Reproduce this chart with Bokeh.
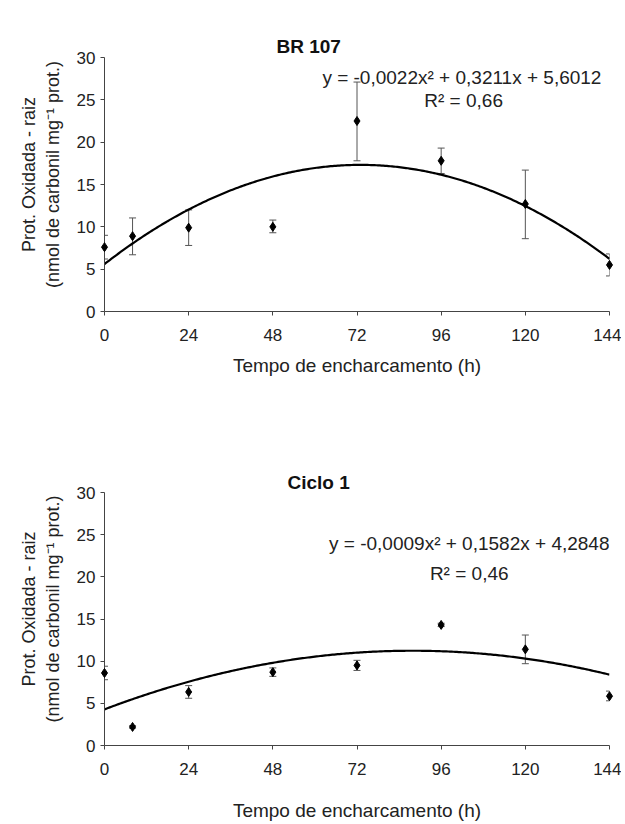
from bokeh.plotting import figure
from bokeh.layouts import column
from bokeh.models import Range1d, Whisker, ColumnDataSource, Label, FixedTicker, Title
from bokeh.embed import file_html
from bokeh.resources import INLINE

# ---- data ----
hours = [0, 8, 24, 48, 72, 96, 120, 144]
x_ticks = [0, 24, 48, 72, 96, 120, 144]
y_ticks = [0, 5, 10, 15, 20, 25, 30]

br107_mean = [7.6, 8.9, 9.9, 10.0, 22.5, 17.8, 12.7, 5.5]
br107_upper = [9.0, 11.05, 12.0, 10.8, 27.1, 19.3, 16.7, 6.8]
br107_lower = [6.2, 6.7, 7.8, 9.3, 17.8, 16.3, 8.6, 4.2]

ciclo1_mean = [8.6, 2.2, 6.35, 8.7, 9.5, 14.3, 11.4, 5.85]
ciclo1_upper = [9.4, 2.35, 7.1, 9.2, 10.1, 14.5, 13.1, 6.45]
ciclo1_lower = [7.8, 2.05, 5.6, 8.2, 8.9, 14.1, 9.7, 5.3]

br107_coef = [-0.0022, 0.3211, 5.6012]
ciclo1_coef = [-0.0009, 0.1582, 4.2848]

br107_eq = "y = -0,0022x\u00b2 + 0,3211x + 5,6012"
br107_r2 = "R\u00b2 = 0,66"
ciclo1_eq = "y = -0,0009x\u00b2 + 0,1582x + 4,2848"
ciclo1_r2 = "R\u00b2 = 0,46"

y_label_1 = "Prot. Oxidada - raiz"
y_label_2 = "(nmol de carbonil mg\u207b\u00b9 prot.)"
x_label = "Tempo de encharcamento (h)"

FONT = "Liberation Sans"
AX = "#444444"
PAD = "\u00a0" * 4


def panel(title, mean, lower, upper, coef, eq, r2, height, b_top, b_bottom,
          title_offset, title_standoff, eq_xy, r2_xy, label_standoff):
    p = figure(width=621, height=height, output_backend="svg", toolbar_location=None,
               x_range=Range1d(0, 144), y_range=Range1d(0, 30),
               min_border_left=104, min_border_right=12,
               min_border_top=b_top, min_border_bottom=b_bottom)
    p.outline_line_color = None
    p.grid.visible = False
    p.background_fill_color = "white"
    p.border_fill_color = "white"

    p.title = Title(text=title, align="left", offset=title_offset,
                    standoff=title_standoff, text_font=FONT,
                    text_font_size="19px", text_font_style="bold",
                    text_color="#111111")

    for ax in (p.xaxis[0], p.yaxis[0]):
        ax.axis_line_color = AX
        ax.major_tick_line_color = AX
        ax.minor_tick_line_color = None
        ax.major_tick_in = 0
        ax.major_tick_out = 4
        ax.major_label_text_font = FONT
        ax.major_label_text_font_size = "17px"
        ax.major_label_text_color = "#222222"
        ax.axis_label_text_font = FONT
        ax.axis_label_text_font_style = "normal"
        ax.axis_label_text_color = "#222222"
    p.xaxis.axis_label_text_font_size = "19px"
    p.yaxis.axis_label_text_font_size = "18px"
    p.xaxis.ticker = FixedTicker(ticks=x_ticks)
    p.yaxis.ticker = FixedTicker(ticks=y_ticks)
    p.xaxis.major_label_standoff = 13
    p.yaxis.major_label_standoff = 5
    p.xaxis.axis_label = x_label
    p.xaxis.axis_label_standoff = label_standoff
    p.yaxis.axis_label = PAD + y_label_1 + "\n" + PAD + y_label_2
    p.yaxis.axis_label_standoff = 11

    # trend line from the regression coefficients shown on the chart
    xs = [i * 0.5 for i in range(0, 289)]
    ys = [coef[0] * x * x + coef[1] * x + coef[2] for x in xs]
    p.line(xs, ys, line_color="black", line_width=2.2)

    src = ColumnDataSource(dict(x=hours, y=mean, lo=lower, hi=upper))
    w = Whisker(base="x", lower="lo", upper="hi", source=src,
                line_color="#555555", line_width=1)
    w.upper_head.size = 7
    w.lower_head.size = 7
    w.upper_head.line_color = "#555555"
    w.lower_head.line_color = "#555555"
    p.add_layout(w)
    r = p.scatter("x", "y", source=src, marker="diamond", size=9,
                  fill_color="black", line_color="black")
    r.level = "overlay"

    p.add_layout(Label(x=eq_xy[0], y=eq_xy[1], text=eq, text_font=FONT,
                       text_font_size="19px", text_align="right",
                       text_baseline="middle", text_color="#222222"))
    p.add_layout(Label(x=r2_xy[0], y=r2_xy[1], text=r2, text_font=FONT,
                       text_font_size="19px", text_align="center",
                       text_baseline="middle", text_color="#222222"))
    return p


top = panel("BR 107", br107_mean, br107_lower, br107_upper, br107_coef,
            br107_eq, br107_r2, 440, 57, 129, 172, 2,
            (141.7, 27.6), (102.4, 24.9), 11)
bottom = panel("Ciclo 1", ciclo1_mean, ciclo1_lower, ciclo1_upper, ciclo1_coef,
               ciclo1_eq, ciclo1_r2, 383, 52, 78, 183, 0,
               (144, 24.0), (104, 20.4), 22)

layout = column(top, bottom, spacing=0)
open("out.html", "w").write(file_html(layout, INLINE))
